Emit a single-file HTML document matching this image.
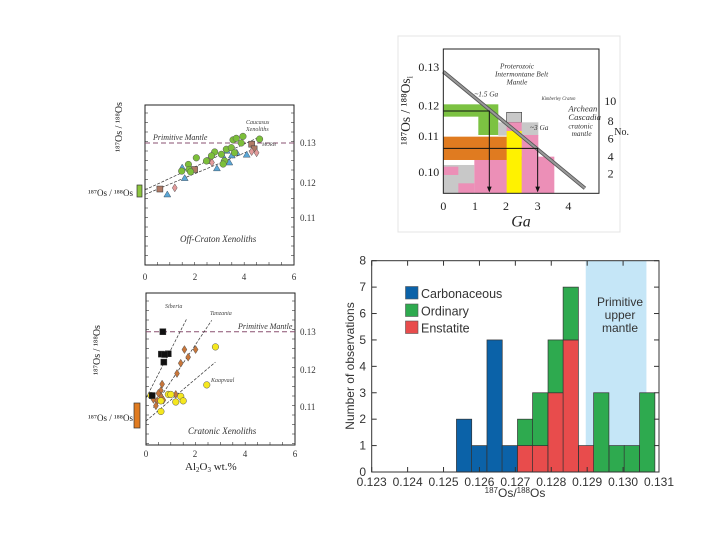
<!DOCTYPE html>
<html><head><meta charset="utf-8"><style>
html,body{margin:0;padding:0;background:#fff;}
svg{display:block;font-family:"Liberation Serif",serif;}
.sans{font-family:"Liberation Sans",sans-serif;}
</style></head><body>
<svg id="root" width="720" height="540" viewBox="0 0 720 540" xmlns="http://www.w3.org/2000/svg">
<rect width="720" height="540" fill="#fff"/>

<!-- ===== top-left panel ===== -->
<g id="tl">
  <rect x="145" y="105" width="149" height="160" fill="none" stroke="#222" stroke-width="1"/>
  <line x1="145" y1="143" x2="294" y2="143" stroke="#8a5070" stroke-dasharray="5,3"/>
  <text x="153" y="140" font-size="8" font-style="italic" fill="#333">Primitive Mantle</text>
  <text x="246" y="124" font-size="6" font-style="italic" fill="#444">Caucasus</text>
  <text x="246" y="131" font-size="6" font-style="italic" fill="#444">Xenoliths</text>
  <text x="262" y="146" font-size="5" font-style="italic" fill="#444">MORB</text>
  <text x="180" y="242" font-size="9" font-style="italic" fill="#333">Off-Craton Xenoliths</text>
  <g font-size="9" fill="#333" text-anchor="middle">
    <text x="145" y="280">0</text><text x="195" y="280">2</text><text x="244" y="280">4</text><text x="294" y="280">6</text>
  </g>
  <g font-size="9" fill="#333">
    <text x="300" y="146">0.13</text><text x="300" y="186">0.12</text><text x="300" y="221">0.11</text>
  </g>
  <text transform="translate(122,152) rotate(-90)" font-size="10" fill="#222">¹⁸⁷Os / ¹⁸⁸Os</text>
  <text x="88" y="196" font-size="9" fill="#222">¹⁸⁷Os / ¹⁸⁸Os</text>
  <rect x="137" y="185" width="5" height="12" fill="#8dc63f" stroke="#333" stroke-width="0.7"/>
  <g id="tlmarks"></g>
</g>

<!-- ===== bottom-left panel ===== -->
<g id="bl">
  <rect x="146" y="293" width="149" height="152" fill="none" stroke="#222" stroke-width="1"/>
  <line x1="146" y1="331.7" x2="295" y2="331.7" stroke="#8a5070" stroke-dasharray="5,3"/>
  <text x="238" y="329" font-size="8" font-style="italic" fill="#333">Primitive Mantle</text>
  <text x="165" y="308" font-size="6" font-style="italic" fill="#444">Siberia</text>
  <text x="210" y="315" font-size="6" font-style="italic" fill="#444">Tanzania</text>
  <text x="211" y="382" font-size="6" font-style="italic" fill="#444">Kaapvaal</text>
  <text x="188" y="434" font-size="9" font-style="italic" fill="#333">Cratonic Xenoliths</text>
  <g font-size="9" fill="#333" text-anchor="middle">
    <text x="146" y="457">0</text><text x="195" y="457">2</text><text x="245" y="457">4</text><text x="295" y="457">6</text>
  </g>
  <g font-size="9" fill="#333">
    <text x="300" y="335">0.13</text><text x="300" y="373">0.12</text><text x="300" y="410">0.11</text>
  </g>
  <text x="185" y="470" font-size="11" fill="#222">Al<tspan font-size="7" dy="2">2</tspan><tspan dy="-2">O</tspan><tspan font-size="7" dy="2">3</tspan><tspan dy="-2"> wt.%</tspan></text>
  <text transform="translate(100,375) rotate(-90)" font-size="10" fill="#222">¹⁸⁷Os / ¹⁸⁸Os</text>
  <text x="88" y="421" font-size="9" fill="#222">¹⁸⁷Os / ¹⁸⁸Os</text>
  <rect x="134" y="403" width="6" height="25" fill="#e07b20" stroke="#333" stroke-width="0.7"/>
  <g id="blmarks"></g>
</g>

<!-- ===== top-right panel (in zoom coords, scaled) ===== -->
<g>
<rect x="398" y="36" width="222" height="196" fill="none" stroke="#e4e4e4" stroke-width="1"/>
<g transform="translate(395,35) scale(0.3333)">
  <rect x="145" y="208" width="165" height="92" fill="#7cc242"/>
  <rect x="145" y="245" width="105" height="55" fill="#fff"/>
  <rect x="145" y="390" width="93" height="85" fill="#c8c8c8"/>
  <rect x="145" y="395" width="45" height="25" fill="#ec8fb7"/>
  <rect x="190" y="445" width="48" height="30" fill="#ec8fb7"/>
  <rect x="335" y="232" width="45" height="30" fill="#c8c8c8" stroke="#444" stroke-width="2"/>
  <rect x="310" y="262" width="120" height="40" fill="#c8c8c8"/>
  <rect x="238" y="365" width="240" height="110" fill="#ec8fb7"/>
  <rect x="335" y="262" width="45" height="45" fill="#ec8fb7"/>
  <rect x="380" y="300" width="50" height="120" fill="#ec8fb7"/>
  <rect x="145" y="305" width="235" height="70" fill="#e07b20"/>
  <rect x="335" y="288" width="45" height="187" fill="#fff200"/>
  <line x1="145" y1="110" x2="570" y2="460" stroke="#555" stroke-width="11"/>
  <line x1="145" y1="110" x2="570" y2="460" stroke="#999" stroke-width="6"/>
  <polyline points="145,228 283,228 283,465" fill="none" stroke="#111" stroke-width="3"/>
  <polygon points="276,455 290,455 283,472" fill="#111"/>
  <polyline points="145,340 428,340 428,465" fill="none" stroke="#111" stroke-width="3"/>
  <polygon points="421,455 435,455 428,472" fill="#111"/>
  <rect x="145" y="42" width="467" height="433" fill="none" stroke="#222" stroke-width="3"/>
  <g font-size="36" fill="#222">
    <text x="70" y="108">0.13</text><text x="70" y="223">0.12</text><text x="70" y="315">0.11</text><text x="70" y="423">0.10</text>
  </g>
  <g font-size="36" fill="#222" text-anchor="middle">
    <text x="145" y="525">0</text><text x="240" y="525">1</text><text x="333" y="525">2</text><text x="428" y="525">3</text><text x="520" y="525">4</text>
  </g>
  <text x="378" y="575" font-size="48" font-style="italic" text-anchor="middle" fill="#222">Ga</text>
  <text transform="translate(45,330) rotate(-90)" font-size="40" fill="#222">¹⁸⁷Os / ¹⁸⁸Os<tspan font-size="26" dy="8">i</tspan></text>
  <g font-size="36" fill="#222">
    <text x="628" y="210">10</text><text x="638" y="270">8</text><text x="638" y="322">6</text><text x="638" y="377">4</text><text x="638" y="427">2</text><text x="658" y="300" font-size="30">No.</text>
  </g>
  <g font-size="22" font-style="italic" fill="#333">
    <text x="315" y="100">Proterozoic</text><text x="300" y="125">Intermontane Belt</text><text x="335" y="148">Mantle</text>
    <text x="238" y="185">~1.5 Ga</text><text x="520" y="230" font-size="26">Archean</text><text x="520" y="255" font-size="26">Cascadia</text><text x="520" y="280">cratonic</text><text x="530" y="303">mantle</text>
    <text x="405" y="285">~3 Ga</text><text x="440" y="195" font-size="14">Kimberley Craton</text>
  </g>
</g>
</g>

<!-- ===== histogram ===== -->
<g>
  <rect id="band" fill="#c5e6f7"/>
  <g id="bars"></g>
  <g id="hticks"></g>
  <rect x="371.7" y="260.7" width="287.3" height="211.3" fill="none" stroke="#333" stroke-width="1"/>
  <g class="sans" font-size="12" fill="#333" text-anchor="middle">
    <text x="620" y="306">Primitive</text><text x="620" y="319">upper</text><text x="620" y="332">mantle</text>
  </g>
  <g class="sans" font-size="12.5" fill="#333">
    <rect x="405.5" y="286.5" width="12.5" height="12.5" fill="#0b62a8" stroke="#555" stroke-width="0.6"/>
    <text x="421" y="298">Carbonaceous</text>
    <rect x="405.5" y="304" width="12.5" height="12.5" fill="#2eaa4f" stroke="#555" stroke-width="0.6"/>
    <text x="421" y="315.5">Ordinary</text>
    <rect x="405.5" y="321" width="12.5" height="12.5" fill="#e84c4c" stroke="#555" stroke-width="0.6"/>
    <text x="421" y="332.5">Enstatite</text>
  </g>
  <text transform="translate(354,366) rotate(-90)" class="sans" font-size="12" fill="#333" text-anchor="middle">Number of observations</text>
  <text x="515" y="497" class="sans" font-size="12" fill="#333" text-anchor="middle"><tspan font-size="8" dy="-4">187</tspan><tspan dy="4">Os/</tspan><tspan font-size="8" dy="-4">188</tspan><tspan dy="4">Os</tspan></text>
</g>
</svg>
<script>
// ---------- histogram data ----------
const binStarts = [0.12536,0.12578,0.12621,0.12663,0.12706,0.12748,0.12791,0.12833,0.12876,0.12918,0.12961,0.13003,0.13046];
const carbonaceous = [2,1,5,1,0,0,0,0,0,0,0,0,0];
const enstatite = [0,0,0,0,1,1,3,5,1,0,0,0,0];
const ordinary = [0,0,0,0,1,2,2,2,0,3,1,1,3];
const xTicks = [0.123,0.124,0.125,0.126,0.127,0.128,0.129,0.130,0.131];
const yTicks = [0,1,2,3,4,5,6,7,8];
const bandRange = [0.12896,0.13065];
const binWidth = 0.000425;

// ---------- scatter data ----------
const offGreenX = [2.07,1.75,1.78,1.48,1.84,2.48,2.81,2.68,3.08,3.28,3.48,3.55,3.68,3.88,3.95,3.61,3.21,3.15,4.62];
const offGreenY = [0.1262,0.1245,0.1232,0.1228,0.1226,0.1254,0.1277,0.1267,0.1271,0.1284,0.1288,0.1308,0.1312,0.1300,0.1317,0.1275,0.1254,0.1246,0.1310];
const offBlueX = [0.9,1.5,1.6,2.9,3.2,3.4,3.5,3.3,4.1,3.7];
const offBlueY = [0.1168,0.1237,0.1210,0.1235,0.1260,0.1250,0.1268,0.1280,0.1270,0.1275];
const offBrownX = [0.6,2.0,2.6,4.3,4.4];
const offBrownY = [0.1182,0.1232,0.1255,0.1297,0.1285];
const offPinkX = [1.2,4.3,4.5,2.7];
const offPinkY = [0.1185,0.1278,0.1275,0.1250];
const crBlackX = [0.68,0.62,0.9,0.72,0.25,0.75];
const crBlackY = [0.130,0.1241,0.1242,0.1220,0.1132,0.1240];
const crBrownX = [1.55,2.0,1.7,1.4,1.25,0.65,0.6,0.3,0.6,1.2,0.7,0.45,0.4,0.5];
const crBrownY = [0.1253,0.1253,0.1233,0.1217,0.1190,0.1162,0.1145,0.1122,0.1130,0.1135,0.1120,0.1118,0.1105,0.1138];
const crYellowX = [2.8,2.45,0.9,1.0,1.4,0.6,1.2,1.5,0.6,0.2];
const crYellowY = [0.1260,0.1160,0.1135,0.1135,0.1130,0.1118,0.1115,0.1118,0.1090,0.1132];

const NS='http://www.w3.org/2000/svg';
function mk(tag, attrs, parent){const e=document.createElementNS(NS,tag);for(const k in attrs)e.setAttribute(k,attrs[k]);parent.appendChild(e);return e;}

// histogram axes
const hx = v => 371.7 + (v-0.123)/0.008*287.3;
const hy = v => 472 - v/8*211.3;
const band=document.getElementById('band');
band.setAttribute('x',hx(bandRange[0]));band.setAttribute('width',hx(bandRange[1])-hx(bandRange[0]));
band.setAttribute('y',260.7);band.setAttribute('height',211.3);
const bars=document.getElementById('bars');
function bar(i, lo, hi, col, nm){
  if(hi<=lo) return;
  const r=mk('rect',{x:hx(binStarts[i]),y:hy(hi),width:hx(binStarts[i]+binWidth)-hx(binStarts[i]),height:hy(lo)-hy(hi),fill:col,stroke:'#333','stroke-width':0.7},bars);
  
  
}
binStarts.forEach((b,i)=>{
  bar(i,0,carbonaceous[i],'#0b62a8','carbonaceous');
  const e0=carbonaceous[i];
  bar(i,e0,e0+enstatite[i],'#e84c4c','enstatite');
  const o0=e0+enstatite[i];
  bar(i,o0,o0+ordinary[i],'#2eaa4f','ordinary');
});
const ht=document.getElementById('hticks');
xTicks.forEach(t=>{
  const x=hx(t);
  mk('line',{x1:x,y1:472,x2:x,y2:467,stroke:'#333'},ht);
  mk('line',{x1:x,y1:260.7,x2:x,y2:265.7,stroke:'#333'},ht);
  const tx=mk('text',{x:x,y:486,'font-size':12,'text-anchor':'middle',fill:'#333',class:'sans'},ht);
  tx.textContent=t.toFixed(3);
  
  
});
yTicks.forEach(t=>{
  const y=hy(t);
  mk('line',{x1:371.7,y1:y,x2:376.7,y2:y,stroke:'#333'},ht);
  mk('line',{x1:659,y1:y,x2:654,y2:y,stroke:'#333'},ht);
  const tx=mk('text',{x:366,y:y+4,'font-size':12,'text-anchor':'end',fill:'#333',class:'sans'},ht);
  tx.textContent=t;
  
  
});

// scatter helpers
function scatter(gid, sx, sy, xs, ys, shape, col, nm){
  const g=document.getElementById(gid);
  xs.forEach((v,i)=>{
    const x=sx(v), y=sy(ys[i]); let e;
    if(shape==='c') e=mk('circle',{cx:x,cy:y,r:3.3,fill:col,stroke:'#555','stroke-width':0.5},g);
    else if(shape==='t') e=mk('polygon',{points:`${x},${y-3.5} ${x-3.5},${y+2.5} ${x+3.5},${y+2.5}`,fill:col,stroke:'#456','stroke-width':0.5},g);
    else if(shape==='s') e=mk('rect',{x:x-3,y:y-3,width:6,height:6,fill:col,stroke:'#333','stroke-width':0.5},g);
    else e=mk('polygon',{points:`${x},${y-4} ${x-2.5},${y} ${x},${y+4} ${x+2.5},${y}`,fill:col,stroke:'#555','stroke-width':0.5},g);
    
    
  });
}
function line(gid,sx,sy,x1,y1,x2,y2){mk('line',{x1:sx(x1),y1:sy(y1),x2:sx(x2),y2:sy(y2),stroke:'#333','stroke-width':0.7,'stroke-dasharray':'3,1.5'},document.getElementById(gid));}
function ticks(gid,x0,x1,y0,y1){const g=document.getElementById(gid);
  for(let y=y0+8;y<y1;y+=9.5){mk('line',{x1:x0,y1:y,x2:x0+3,y2:y,stroke:'#333','stroke-width':0.6},g);mk('line',{x1:x1,y1:y,x2:x1-3,y2:y,stroke:'#333','stroke-width':0.6},g);}
  for(let x=x0+12.4;x<x1;x+=12.4){mk('line',{x1:x,y1:y1,x2:x,y2:y1-3,stroke:'#333','stroke-width':0.6},g);}
}
const tsx=v=>145+v*24.8, tsy=v=>143+(0.13-v)*3900;
ticks('tlmarks',145,294,105,265);
line('tlmarks',tsx,tsy,0,0.1180,4.6,0.1315);
line('tlmarks',tsx,tsy,0,0.1168,4.4,0.1285);
scatter('tlmarks',tsx,tsy,offBrownX,offBrownY,'s','#b07a66','off-craton-brown');
scatter('tlmarks',tsx,tsy,offPinkX,offPinkY,'d','#e29a9a','off-craton-pink');
scatter('tlmarks',tsx,tsy,offBlueX,offBlueY,'t','#5aa7d6','off-craton-blue');
scatter('tlmarks',tsx,tsy,offGreenX,offGreenY,'c','#7cbf3a','off-craton-green');
const bsx=v=>146+v*24.8, bsy=v=>331.7+(0.13-v)*3800;
ticks('blmarks',146,295,293,445);
line('blmarks',bsx,bsy,0,0.1125,1.65,0.1335);
line('blmarks',bsx,bsy,0.3,0.1100,2.65,0.1330);
line('blmarks',bsx,bsy,0,0.1065,2.8,0.1220);
scatter('blmarks',bsx,bsy,crBrownX,crBrownY,'d','#c8763a','cratonic-brown');
scatter('blmarks',bsx,bsy,crYellowX,crYellowY,'c','#f5e71e','cratonic-yellow');
scatter('blmarks',bsx,bsy,crBlackX,crBlackY,'s','#111','cratonic-black');
</script>
</body></html>
